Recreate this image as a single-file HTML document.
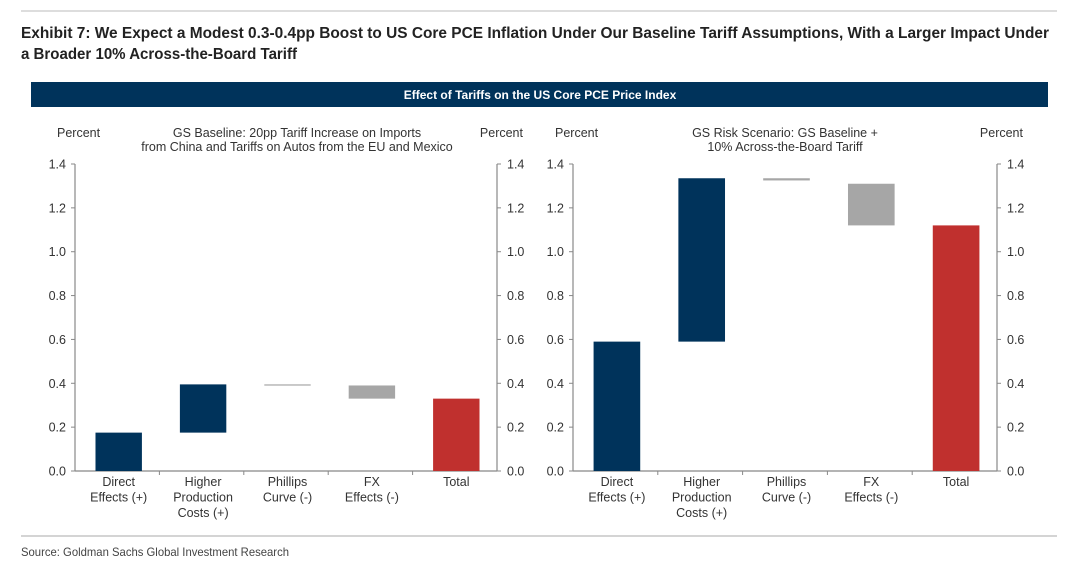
<!DOCTYPE html>
<html><head><meta charset="utf-8"><style>
html,body{margin:0;padding:0;background:#fff;}
svg{display:block;font-family:"Liberation Sans",Arial,sans-serif;}
</style></head><body>
<svg id="root" width="1080" height="576" viewBox="0 0 1080 576">
<line x1="21" y1="11" x2="1057" y2="11" stroke="#bbb" stroke-width="1"/>
<text x="21" y="38" font-size="16" font-weight="bold" fill="#222" textLength="1028" lengthAdjust="spacingAndGlyphs">Exhibit 7: We Expect a Modest 0.3-0.4pp Boost to US Core PCE Inflation Under Our Baseline Tariff Assumptions, With a Larger Impact Under</text>
<text x="21" y="59" font-size="16" font-weight="bold" fill="#222" textLength="276" lengthAdjust="spacingAndGlyphs">a Broader 10% Across-the-Board Tariff</text>
<rect x="31" y="82" width="1017" height="25" fill="#00335b"/>
<text x="540" y="99" font-size="12" font-weight="bold" fill="#fff" text-anchor="middle">Effect of Tariffs on the US Core PCE Price Index</text>
<line x1="21" y1="536" x2="1057" y2="536" stroke="#aaa" stroke-width="1"/>
<text x="21" y="556" font-size="12" fill="#444" textLength="268" lengthAdjust="spacingAndGlyphs">Source: Goldman Sachs Global Investment Research</text>
<g id="charts"></g>
</svg>
<script>
const categories = ["Direct|Effects (+)", "Higher|Production|Costs (+)", "Phillips|Curve (-)", "FX|Effects (-)", "Total"];
const baseLow = [0, 0.175, 0.39, 0.33, 0];
const baseHigh = [0.175, 0.395, 0.395, 0.39, 0.33];
const riskLow = [0, 0.59, 1.325, 1.12, 0];
const riskHigh = [0.59, 1.335, 1.335, 1.31, 1.12];
const barKinds = ["pos", "pos", "neg", "neg", "total"];
const yTicks = [0, 0.2, 0.4, 0.6, 0.8, 1.0, 1.2, 1.4];
const baseTitle = ["GS Baseline: 20pp Tariff Increase on Imports", "from China and Tariffs on Autos from the EU and Mexico"];
const riskTitle = ["GS Risk Scenario: GS Baseline +", "10% Across-the-Board Tariff"];

const NS = "http://www.w3.org/2000/svg";
const host = document.getElementById("charts");
function mk(tag, attrs, parent) {
  const e = document.createElementNS(NS, tag);
  for (const k in attrs) e.setAttribute(k, attrs[k]);
  parent.appendChild(e);
  return e;
}
const colors = {pos: "#00335b", neg: "#a6a6a6", total: "#c0302e"};

function drawChart(name, x0, x1, low, high, title, titleShift) {
  const g = mk("g", {}, host);
  
  
  const yTop = 164, yBot = 471, yMax = 1.4;
  const y = v => yBot - (v / yMax) * (yBot - yTop);
  const cw = (x1 - x0) / categories.length;
  const xc = i => x0 + cw * (i + 0.5) + 1.5;
  const grey = "#888";
  const la = mk("line", {x1: x0, y1: yTop, x2: x0, y2: yBot, stroke: grey, "stroke-width": 1.2}, g);
  
  
  const ra = mk("line", {x1: x1, y1: yTop, x2: x1, y2: yBot, stroke: grey, "stroke-width": 1.2}, g);
  
  
  yTicks.forEach(t => {
    const yy = y(t);
    mk("line", {x1: x0 - 4, y1: yy, x2: x0, y2: yy, stroke: grey}, g);
    mk("line", {x1: x1, y1: yy, x2: x1 + 4, y2: yy, stroke: grey}, g);
    const lt = mk("text", {x: x0 - 9, y: yy + 4.5, "font-size": 12.5, fill: "#333", "text-anchor": "end"}, g);
    lt.textContent = t.toFixed(1);
    
    
    const rt = mk("text", {x: x1 + 10, y: yy + 4.5, "font-size": 12.5, fill: "#333"}, g);
    rt.textContent = t.toFixed(1);
    
    
  });
  const xa = mk("line", {x1: x0, y1: yBot, x2: x1, y2: yBot, stroke: grey, "stroke-width": 1.2}, g);
  
  
  for (let i = 1; i < categories.length; i++) {
    mk("line", {x1: x0 + cw * i, y1: yBot, x2: x0 + cw * i, y2: yBot + 4, stroke: grey}, g);
  }
  const bw = cw * 0.55;
  categories.forEach((c, i) => {
    const top = y(high[i]), bot = y(low[i]);
    const r = mk("rect", {x: xc(i) - bw / 2, y: top, width: bw, height: Math.max(bot - top, 1.2), fill: colors[barKinds[i]]}, g);
    
    
    const lines = c.split("|");
    lines.forEach((ln, j) => {
      const t = mk("text", {x: xc(i), y: yBot + 15 + j * 15.5, "font-size": 12.5, fill: "#333", "text-anchor": "middle"}, g);
      t.textContent = ln;
      
      
    });
  });
  const pl = mk("text", {x: x0 - 18, y: 137, "font-size": 12.5, fill: "#333"}, g);
  pl.textContent = "Percent";
  
  
  const pr = mk("text", {x: x1 + 26, y: 137, "font-size": 12.5, fill: "#333", "text-anchor": "end"}, g);
  pr.textContent = "Percent";
  
  
  title.forEach((ln, j) => {
    const t = mk("text", {x: (x0 + x1) / 2 + titleShift, y: 137 + j * 14, "font-size": 12.5, fill: "#333", "text-anchor": "middle"}, g);
    t.textContent = ln;
    
    
  });
}
drawChart("baseline-chart", 75, 497, baseLow, baseHigh, baseTitle, 11);
drawChart("risk-chart", 573, 997, riskLow, riskHigh, riskTitle, 0);
</script>
</body></html>
